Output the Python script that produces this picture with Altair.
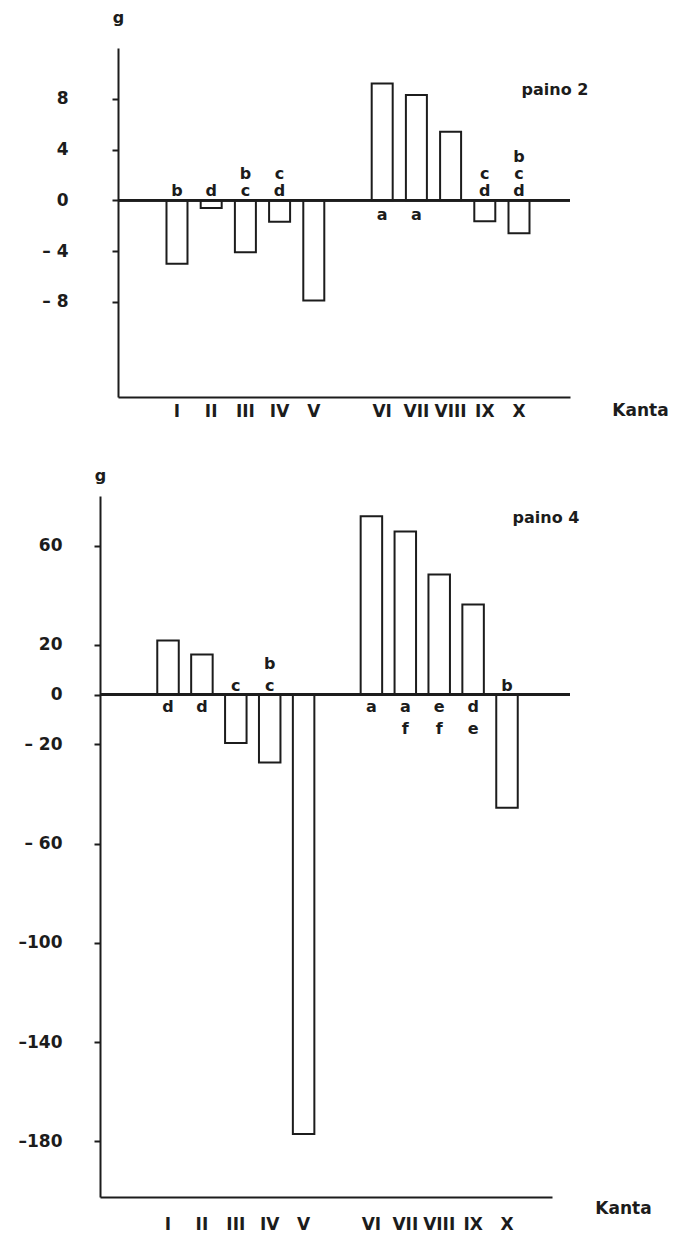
import altair as alt
import pandas as pd

# ---- data ----
categories = ["I", "II", "III", "IV", "V", "VI", "VII", "VIII", "IX", "X"]
# blank entries are empty slots: one before I, the gap between V and VI, one after X
band_domain = [" ", "I", "II", "III", "IV", "V", "  ", "VI", "VII", "VIII", "IX", "X", "   "]

paino2_values = [-5.0, -0.6, -4.1, -1.7, -7.9, 9.2, 8.3, 5.4, -1.65, -2.6]
paino2_letters = ["b", "d", "bc", "cd", "", "a", "a", "", "cd", "bcd"]
paino2_ticks = [8, 4, 0, -4, -8]

paino4_values = [21.8, 16.1, -19.5, -27.4, -177.0, 71.8, 65.7, 48.4, 36.3, -45.6]
paino4_letters = ["d", "d", "c", "bc", "", "a", "af", "ef", "de", "b"]
paino4_ticks = [60, 20, 0, -20, -60, -100, -140, -180]

INK = "#1c1c1c"
FONT = "DejaVu Sans"
W = 470

label_expr = "datum.value < 0 ? (datum.value > -100 ? '\u2013 ' : '\u2013') + abs(datum.value) : datum.label"


def letter_table(values, letters):
    """One row per significance letter; rank counts outward from the zero line."""
    rows = []
    for cat, v, s in zip(categories, values, letters):
        seq = list(s)
        if v < 0:
            seq = seq[::-1]  # letters sit above the line, read top-down
        for r, ch in enumerate(seq):
            rows.append({"Kanta": cat, "g": v, "letter": ch, "rank": r,
                         "side": "above" if v < 0 else "below"})
    return pd.DataFrame(rows)


def panel(values, letters, name, ydom, yticks, height, band, opts):
    df = pd.DataFrame({"Kanta": categories, "g": values})
    lt = letter_table(values, letters)
    x = alt.X(
        "Kanta:N",
        sort=None,
        scale=alt.Scale(domain=band_domain, paddingInner=band[0],
                        paddingOuter=band[1], align=band[2], range=band[3]),
        axis=alt.Axis(values=categories, title="Kanta", labelAngle=0,
                      ticks=False, domainWidth=2, domainColor=INK,
                      labelFontSize=17, labelFontWeight="bold", labelColor=INK,
                      labelFont=FONT,
                      labelPadding=opts["xlabpad"], labelBaseline="top",
                      titleX=opts["kx"], titleY=opts["ky"], titleAlign="center",
                      titleBaseline="middle", titleFontSize=17, titleFont=FONT,
                      titleFontWeight="bold", titleColor=INK),
    )
    y = alt.Y(
        "g:Q",
        scale=alt.Scale(domain=ydom, nice=False, zero=False),
        axis=alt.Axis(values=yticks, grid=False, domainWidth=2, domainColor=INK,
                      tickWidth=2, tickColor=INK, tickSize=6, offset=opts["yoff"],
                      labelPadding=opts["ylabpad"], labelFontSize=17, labelFont=FONT,
                      labelFontWeight="bold", labelColor=INK, labelExpr=label_expr,
                      title="g", titleAngle=0, titleX=0, titleY=opts["gy"],
                      titleAlign="center", titleBaseline="middle", titleFont=FONT,
                      titleFontSize=16, titleFontWeight="bold", titleColor=INK),
    )
    base = alt.Chart(df)
    bars = base.mark_bar(fill="white", stroke=INK, strokeWidth=2).encode(
        x=x, y=y, y2=alt.datum(0)
    )
    zero = base.mark_rule(color=INK, strokeWidth=2).encode(
        y=alt.datum(0), x=alt.value(opts["z0"]), x2=alt.value(W)
    )
    layers = [bars, zero]
    lbase = alt.Chart(lt)
    lh = opts["lh"]
    for r in range(3):
        layers.append(
            lbase.transform_filter(f"datum.side == 'above' && datum.rank == {r}")
            .mark_text(baseline="alphabetic", dy=-4 - r * lh, font=FONT, fontSize=16,
                       fontWeight="bold", color=INK)
            .encode(x=x, y=alt.datum(0), text="letter:N")
        )
        layers.append(
            lbase.transform_filter(f"datum.side == 'below' && datum.rank == {r}")
            .mark_text(baseline="top", dy=opts["bdy"] + r * lh, font=FONT, fontSize=16,
                       fontWeight="bold", color=INK)
            .encode(x=x, y=alt.datum(0), text="letter:N")
        )
    tag = base.mark_text(font=FONT, fontSize=16, fontWeight="bold", color=INK,
                         align="center", baseline="middle").encode(
        x=alt.value(opts["tx"]), y=alt.value(opts["ty"]), text=alt.value(name)
    ).transform_filter("datum.Kanta == 'I'")
    layers.append(tag)
    return alt.layer(*layers).properties(width=W, height=height)


top = panel(paino2_values, paino2_letters, "paino 2", [-15.5, 12], paino2_ticks, 349,
            (0.386, 0.301, 0.694, [18, 470]),
            dict(xlabpad=6, kx=540, ky=13, ylabpad=44, yoff=-18, gy=-31, lh=17,
                 bdy=7, tx=455, ty=42, z0=18))
bottom = panel(paino4_values, paino4_letters, "paino 4", [-202.4, 80], paino4_ticks, 701,
               (0.366, 0.35, 0.985, [0, 452]),
               dict(xlabpad=19, kx=523, ky=11, ylabpad=32, yoff=0, gy=-21, lh=22,
                    bdy=4, tx=446, ty=22, z0=0))

chart = alt.vconcat(top, bottom, spacing=48).properties(
    padding={"left": 18, "top": 9, "right": 0, "bottom": 5}
).configure(font=FONT, view=alt.ViewConfig(stroke=None))

chart.save("out.html", embed_options={"renderer": "svg", "actions": False})
